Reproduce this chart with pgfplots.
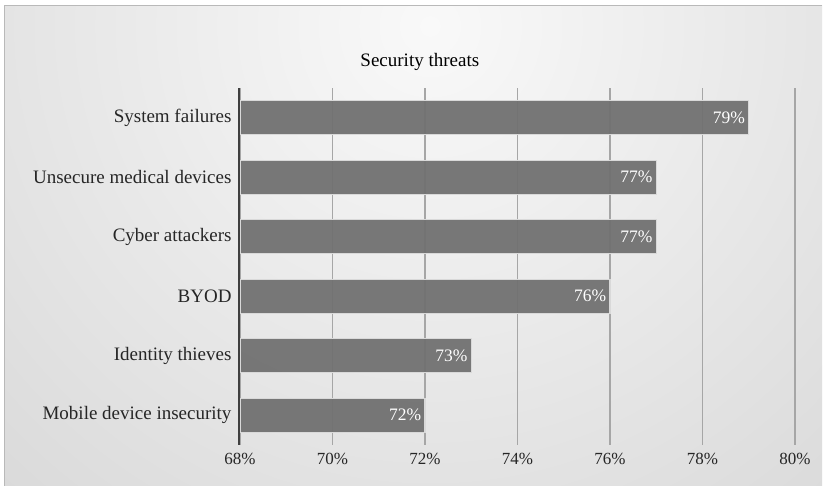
\documentclass[border=0pt]{standalone}
\usepackage{fontspec}
\setmainfont{Liberation Serif}
\usepackage{pgfplots}
\pgfplotsset{compat=1.18}
\definecolor{bgin}{HTML}{F9F9F9}
\definecolor{bgout}{HTML}{B8B8B8}
\definecolor{barfill}{HTML}{707070}
\definecolor{barline}{HTML}{D9D9D9}
\definecolor{gridc}{HTML}{A6A6A6}
\definecolor{axc}{HTML}{3F3F3F}
\pgfdeclareradialshading{bgshade}{\pgfpoint{0bp}{0bp}}{color(0bp)=(bgin); color(50bp)=(bgout)}
\begin{document}
\begin{tikzpicture}[x=1bp,y=1bp]
\useasboundingbox (0,0) rectangle (823,486);
\fill[white] (0,0) rectangle (823,486);
\begin{scope}
\clip (4,0) rectangle (822,480);
\fill[bgout] (4,0) rectangle (822,480);
\shade[shading=bgshade] (430,460) circle (660);
\end{scope}
\draw[gray!55, line width=1] (4,0) -- (4,480) -- (822,480);
\begin{axis}[
 at={(240bp,41bp)}, anchor=south west,
 scale only axis, width=555bp, height=357bp,
 xbar, bar width=34bp,
 xmin=68, xmax=80, ymin=-0.5, ymax=5.5,
 xtick={68,70,...,80},
 ytick={0,...,5},
 yticklabels={Mobile device insecurity, Identity thieves, BYOD, Cyber attackers, Unsecure medical devices, System failures},
 xticklabel={\pgfmathprintnumber{\tick}\%},
 /pgf/number format/assume math mode=true,
 axis lines*=left,
 x axis line style={draw=none},
 y axis line style={-, draw=axc, line width=2.2bp, xshift=-1bp},
 major tick length=0pt,
 xmajorgrids, grid style={gridc, line width=1.1bp},
 ticklabel style={font=\fontsize{17bp}{20bp}\selectfont, text=black!85},
 xticklabel style={yshift=-5bp},
 yticklabel style={font=\fontsize{19bp}{22bp}\selectfont, xshift=-5bp},
 nodes near coords={\pgfmathprintnumber{\pgfplotspointmeta}\%},
 nodes near coords style={anchor=east, text=white, font=\fontsize{17.5bp}{20bp}\selectfont},
 title={Security threats},
 title style={font=\fontsize{19bp}{22bp}\selectfont, at={(0.324,1)}, anchor=center, yshift=20bp},
]
\addplot[fill=barfill, fill opacity=0.94, text opacity=1, draw=barline, line width=1.2bp] coordinates {
 (72,0) (73,1) (76,2) (77,3) (77,4) (79,5)
};
\end{axis}
\end{tikzpicture}
\end{document}
